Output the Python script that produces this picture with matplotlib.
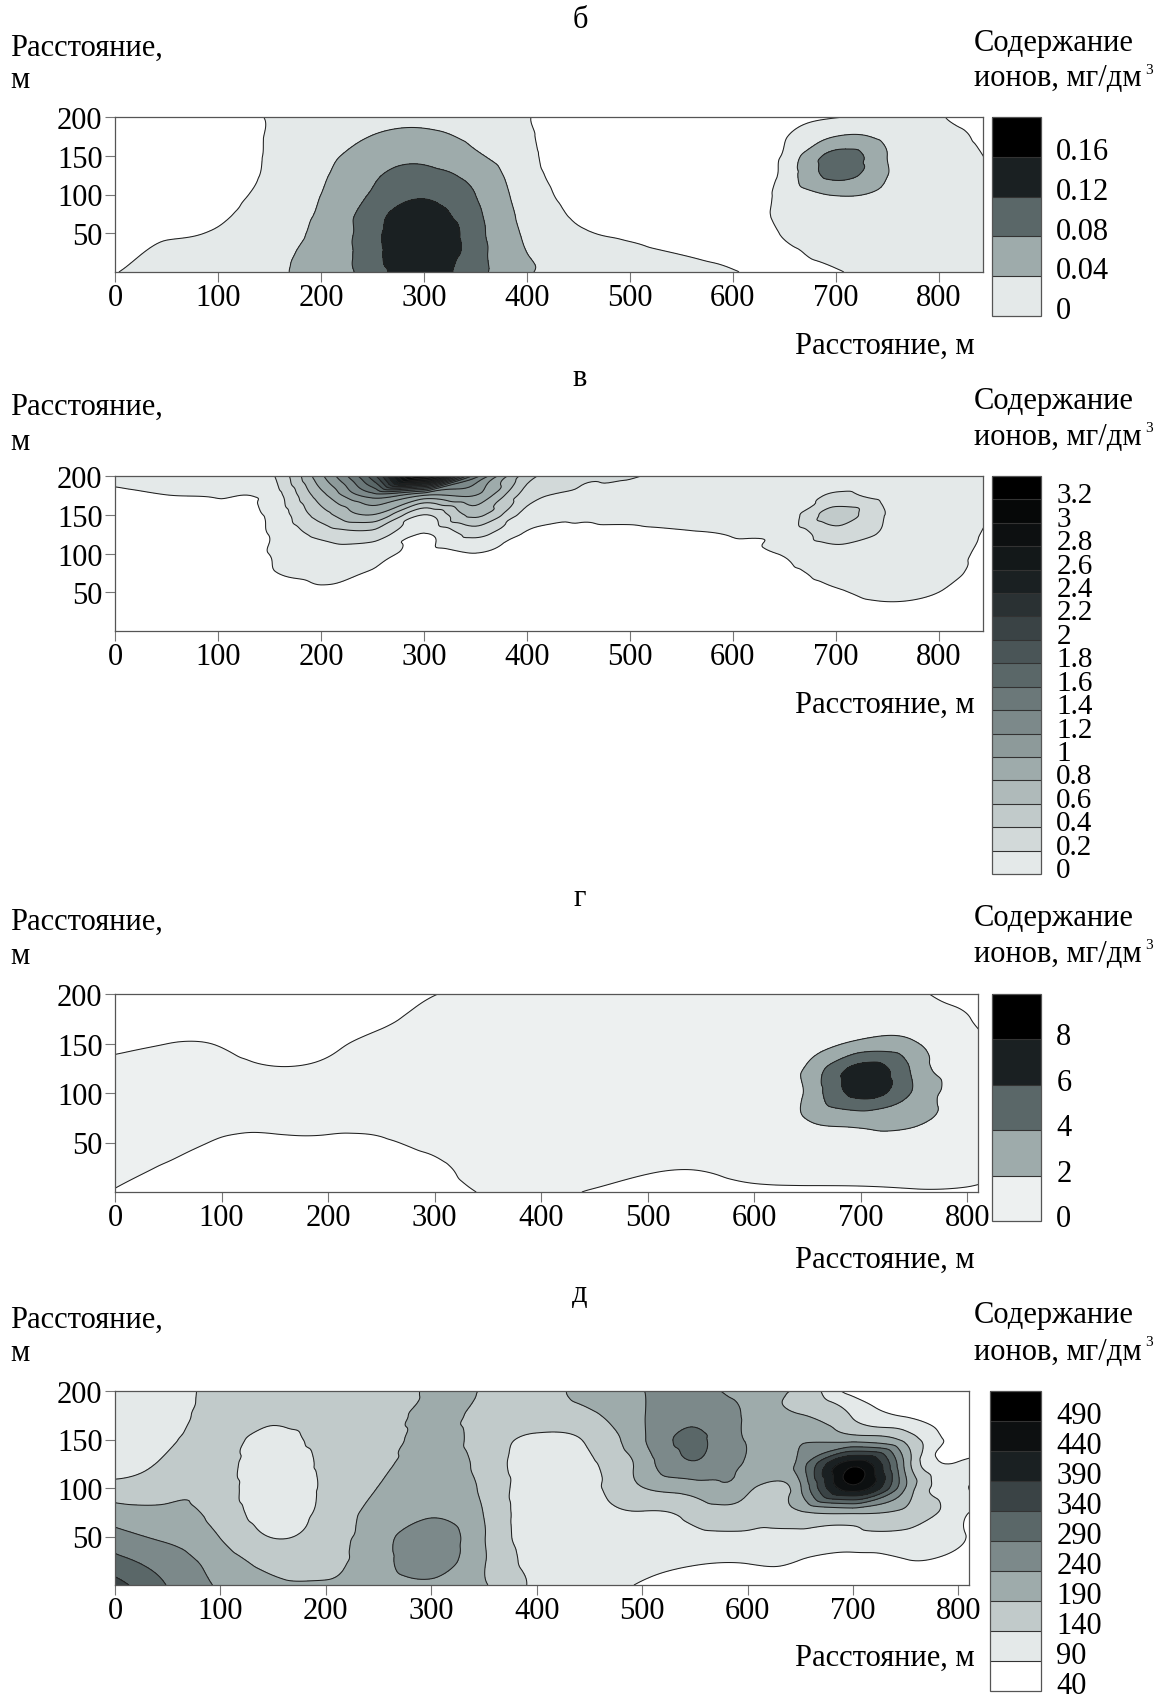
import numpy as np
import matplotlib
matplotlib.use("Agg")
import matplotlib.pyplot as plt
import matplotlib.tri as mtri
from matplotlib.colors import LinearSegmentedColormap

plt.rcParams['font.family'] = ['Liberation Serif', 'DejaVu Serif']
plt.rcParams['mathtext.fontset'] = 'custom'
plt.rcParams['mathtext.rm'] = 'Liberation Serif'
plt.rcParams['mathtext.it'] = 'Liberation Serif:italic'

# ---------------- data ----------------
x_nodes = [0, 50, 100, 150, 200, 250, 300, 350, 400, 450, 500, 550, 600, 650, 700, 750, 800, 850]
y_nodes = [200, 175, 150, 125, 100, 75, 50, 25, 0]          # rows listed top -> bottom

# panel б  (мг/дм3)
b_grid = [
    [-0.02, -0.02, -0.02, 0.003, 0.015, 0.026, 0.030, 0.020, 0.002, -0.03, -0.03, -0.03, -0.03, -0.012, -0.002, 0.012, 0.001, -0.016],
    [-0.02, -0.02, -0.02, 0.003, 0.022, 0.041, 0.048, 0.032, 0.006, -0.03, -0.03, -0.03, -0.03, -0.003, 0.040, 0.028, 0.005, -0.010],
    [-0.02, -0.02, -0.02, 0.004, 0.030, 0.058, 0.070, 0.045, 0.011, -0.03, -0.03, -0.03, -0.03, 0.006, 0.094, 0.040, 0.010, -0.004],
    [-0.02, -0.02, -0.02, 0.006, 0.035, 0.073, 0.092, 0.066, 0.016, -0.02, -0.03, -0.03, -0.02, 0.012, 0.092, 0.041, 0.014, 0.001],
    [-0.02, -0.02, -0.015, 0.012, 0.040, 0.085, 0.115, 0.080, 0.022, -0.012, -0.02, -0.02, -0.02, 0.012, 0.042, 0.034, 0.015, 0.004],
    [-0.02, -0.012, -0.006, 0.018, 0.045, 0.102, 0.135, 0.090, 0.028, -0.005, -0.012, -0.015, -0.015, 0.008, 0.028, 0.025, 0.014, 0.005],
    [-0.02, -0.003, 0.003, 0.024, 0.049, 0.106, 0.150, 0.096, 0.034, 0.004, -0.004, -0.010, -0.012, 0.002, 0.017, 0.018, 0.012, 0.006],
    [-0.015, 0.006, 0.012, 0.028, 0.054, 0.105, 0.150, 0.098, 0.040, 0.016, 0.005, -0.001, -0.006, -0.004, 0.008, 0.013, 0.010, 0.006],
    [-0.002, 0.015, 0.020, 0.030, 0.058, 0.100, 0.140, 0.095, 0.044, 0.025, 0.012, 0.006, 0.002, -0.012, -0.002, 0.008, 0.008, 0.006],
]
b_levels = [0, 0.04, 0.08, 0.12, 0.16, 0.20]
b_labels = ['0', '0.04', '0.08', '0.12', '0.16']

# panel в
v_grid = [
    [0.06, 0.10, 0.10, 0.15, 0.95, 1.90, 3.40, 1.50, 0.50, 0.24, 0.21, 0.16, 0.13, 0.12, 0.13, 0.11, 0.08, 0.04],
    [-0.04, -0.002, 0.01, 0.07, 0.72, 1.30, 1.00, 1.00, 0.30, 0.17, 0.15, 0.11, 0.09, 0.10, 0.22, 0.14, 0.08, 0.02],
    [-0.08, -0.05, -0.04, 0.03, 0.50, 0.80, 0.20, 0.65, 0.12, 0.03, 0.03, 0.04, 0.05, 0.08, 0.50, 0.19, 0.08, 0.00],
    [-0.10, -0.08, -0.08, 0.005, 0.26, 0.32, -0.01, 0.25, -0.02, -0.02, -0.02, -0.01, 0.005, 0.05, 0.30, 0.17, 0.08, -0.02],
    [-0.12, -0.10, -0.10, 0.002, 0.09, 0.07, -0.06, -0.002, -0.06, -0.05, -0.05, -0.04, -0.02, 0.01, 0.12, 0.10, 0.06, -0.04],
    [-0.14, -0.12, -0.12, -0.01, 0.02, -0.01, -0.10, -0.05, -0.08, -0.08, -0.08, -0.07, -0.06, -0.03, 0.04, 0.06, 0.04, -0.05],
    [-0.15, -0.14, -0.14, -0.05, -0.01, -0.05, -0.12, -0.08, -0.10, -0.10, -0.10, -0.09, -0.08, -0.06, -0.01, 0.02, 0.00, -0.06],
    [-0.16, -0.15, -0.15, -0.08, -0.05, -0.08, -0.14, -0.10, -0.12, -0.12, -0.12, -0.11, -0.10, -0.08, -0.04, -0.02, -0.03, -0.07],
    [-0.16, -0.16, -0.16, -0.10, -0.08, -0.10, -0.15, -0.12, -0.13, -0.13, -0.13, -0.12, -0.12, -0.10, -0.07, -0.05, -0.05, -0.08],
]
v_levels = [0, 0.2, 0.4, 0.6, 0.8, 1.0, 1.2, 1.4, 1.6, 1.8, 2.0, 2.2, 2.4, 2.6, 2.8, 3.0, 3.2, 3.4]
v_labels = ['0', '0.2', '0.4', '0.6', '0.8', '1', '1.2', '1.4', '1.6', '1.8', '2',
            '2.2', '2.4', '2.6', '2.8', '3', '3.2']

# panel г
g_grid = [
    [-0.7, -0.7, -0.7, -0.7, -0.6, -0.4, -0.05, 0.8, 0.9, 0.9, 0.9, 0.9, 0.9, 0.8, 0.7, 0.2, -0.4, -0.8],
    [-0.5, -0.4, -0.5, -0.6, -0.4, -0.2, 0.5, 0.9, 1.0, 1.0, 1.0, 1.0, 1.0, 0.9, 1.0, 0.8, 0.05, -0.9],
    [-0.2, 0.0, -0.05, -0.3, -0.15, 0.3, 0.8, 1.0, 1.0, 1.0, 1.0, 1.0, 1.0, 1.2, 2.5, 2.2, 0.4, -0.6],
    [0.3, 0.4, 0.3, 0.05, 0.2, 0.6, 0.9, 1.0, 1.0, 1.0, 1.0, 1.0, 1.1, 2.3, 6.7, 3.5, 1.0, 0.3],
    [0.6, 0.7, 0.7, 0.7, 0.7, 0.8, 0.9, 1.0, 1.0, 1.0, 1.0, 1.0, 1.1, 2.4, 6.7, 3.7, 1.0, 0.4],
    [0.7, 0.7, 0.4, 0.35, 0.35, 0.4, 0.8, 0.9, 1.0, 1.0, 1.0, 1.0, 1.0, 2.1, 3.0, 2.5, 0.9, 0.4],
    [0.6, 0.4, -0.1, -0.15, -0.15, -0.1, 0.3, 0.8, 0.9, 0.9, 0.9, 0.9, 0.9, 1.0, 1.3, 1.2, 0.7, 0.3],
    [0.3, -0.1, -0.4, -0.5, -0.5, -0.4, -0.2, 0.5, 0.7, 0.5, 0.2, 0.1, 0.4, 0.5, 0.6, 0.6, 0.5, -0.1],
    [-0.05, -0.4, -0.5, -0.6, -0.6, -0.5, -0.4, 0.1, 0.3, -0.1, -0.4, -0.4, -0.2, -0.2, -0.2, -0.1, -0.15, -0.4],
]
g_levels = [0, 2, 4, 6, 8, 10]
g_labels = ['0', '2', '4', '6', '8']

# panel д
d_grid = [
    [120, 130, 150, 158, 170, 168, 200, 184, 175, 200, 238, 255, 215, 180, 65, 50, 50, 45],
    [115, 125, 155, 150, 165, 168, 205, 170, 165, 182, 236, 275, 232, 192, 135, 85, 60, 50],
    [110, 130, 158, 125, 158, 172, 205, 168, 130, 148, 232, 300, 236, 235, 220, 175, 75, 60],
    [115, 152, 162, 112, 152, 180, 210, 172, 115, 133, 210, 285, 232, 260, 470, 225, 95, 70],
    [158, 172, 165, 110, 150, 191, 215, 180, 110, 125, 188, 215, 205, 235, 470, 238, 100, 80],
    [210, 200, 170, 120, 155, 205, 232, 188, 110, 120, 138, 160, 170, 185, 200, 180, 105, 75],
    [258, 230, 188, 138, 165, 218, 265, 193, 115, 115, 120, 125, 130, 125, 125, 125, 95, 65],
    [305, 265, 215, 175, 180, 220, 262, 194, 122, 110, 105, 95, 93, 89, 70, 88, 75, 55],
    [360, 288, 232, 195, 193, 215, 232, 195, 130, 100, 88, 75, 78, 75, 50, 55, 55, 45],
]
d_levels = [40, 90, 140, 190, 240, 290, 340, 390, 440, 490, 540]
d_labels = ['40', '90', '140', '190', '240', '290', '340', '390', '440', '490']

x_ticks = [0, 100, 200, 300, 400, 500, 600, 700, 800]
y_ticks = [50, 100, 150, 200]

# ---------------- drawing ----------------
W, H = 1156, 1699
fig = plt.figure(figsize=(W / 100, H / 100), dpi=100)
FS = 22

def rect(l, t, r, b):
    return [l / W, 1 - b / H, (r - l) / W, (b - t) / H]

cmap = LinearSegmentedColormap.from_list(
    'gb', ['#e4e9e9', '#9eabab', '#5b6869', '#1a2022', '#000000'])

def band_colors(n, first=None, white_first=False):
    if white_first:
        cols = ['#ffffff'] + [cmap(i / (n - 2)) for i in range(n - 1)]
    else:
        cols = [cmap(i / (n - 1)) for i in range(n)]
    if first is not None:
        cols[0] = first
    return cols

xs = np.array(x_nodes, float)
ys = np.array(y_nodes[::-1], float)
X, Y = np.meshgrid(xs, ys)
nx, ny = len(xs), len(ys)
tris = []
for j in range(ny - 1):
    for i in range(nx - 1):
        a = j * nx + i
        tris.append([a, a + 1, a + nx + 1])
        tris.append([a, a + nx + 1, a + nx])
tri = mtri.Triangulation(X.ravel(), Y.ravel(), np.array(tris))
refiner = mtri.UniformTriRefiner(tri)


def panel(ax_box, cax_box, grid, levels, colors, xmax, labels, offset,
          low_clip=False, kind='min_E', cb_fs=FS):
    ax = fig.add_axes(rect(*ax_box))
    Z = np.array(grid, float)[::-1].ravel()
    interp = mtri.CubicTriInterpolator(tri, Z, kind=kind)
    tri_r, z_r = refiner.refine_field(Z, triinterpolator=interp, subdiv=4)
    span = levels[-1] - levels[0]
    z_r = np.minimum(z_r, levels[-1] - 1e-4 * span)
    if low_clip:
        z_r = np.maximum(z_r, levels[0] + 1e-4 * span)
    cs = ax.tricontourf(tri_r, z_r, levels=levels, colors=colors)
    ax.tricontour(tri_r, z_r, levels=levels[:-1], colors='#202020', linewidths=0.75)
    ax.set_xlim(0, xmax)
    ax.set_ylim(0, 200)
    ax.set_xticks(x_ticks)
    ax.set_yticks(y_ticks)
    ax.tick_params(direction='out', length=7, width=0.8, color='#777777',
                   labelsize=FS, pad=1)
    ax.tick_params(axis='y', pad=2)
    for s in ax.spines.values():
        s.set_color('#555555')
        s.set_linewidth(0.9)
    cax = fig.add_axes(rect(*cax_box))
    cb = fig.colorbar(cs, cax=cax, drawedges=True)
    cb.outline.set_edgecolor('#555555')
    cb.outline.set_linewidth(0.9)
    cb.dividers.set_color('#333333')
    cb.dividers.set_linewidth(0.8)
    step = levels[1] - levels[0]
    cb.set_ticks([lv + offset * step for lv in levels[:-1]], labels=labels)
    cax.tick_params(length=0, pad=11, labelsize=cb_fs)
    return ax


TITLES = ['б', 'в', 'г', 'д']

def texts(title_y, left_y1, left_y2, right_y1, right_y2, bottom_y):
    fig.text(580 / W, 1 - title_y / H, TITLES.pop(0), ha='center', va='center', fontsize=FS)
    fig.text(10 / W, 1 - left_y1 / H, 'Расстояние,', ha='left', va='center', fontsize=FS)
    fig.text(10 / W, 1 - left_y2 / H, 'м', ha='left', va='center', fontsize=FS)
    fig.text(974 / W, 1 - right_y1 / H, 'Содержание', ha='left', va='center', fontsize=FS)
    fig.text(974 / W, 1 - right_y2 / H, 'ионов, мг/дм', ha='left', va='center', fontsize=FS)
    fig.text(1145 / W, 1 - (right_y2 - 9) / H, '3', ha='left', va='center', fontsize=11)
    fig.text(975 / W, 1 - bottom_y / H, 'Расстояние, м', ha='right', va='center', fontsize=FS)


panel((115, 118, 983, 273), (992, 118, 1041, 317), b_grid, b_levels,
      band_colors(5), 843, b_labels, 0.22)
texts(20, 48, 81, 44, 79, 346)

panel((115, 477, 983, 632), (992, 477, 1041, 875), v_grid, v_levels,
      band_colors(17), 843, v_labels, 0.3, kind='geom', cb_fs=21)
texts(378, 407, 442, 402, 438, 705)

panel((115, 995, 978, 1193), (992, 995, 1041, 1222), g_grid, g_levels,
      band_colors(5, first='#edf0f0'), 810, g_labels, 0.13)
texts(899, 922, 957, 919, 955, 1260)

panel((115, 1392, 969, 1586), (990, 1392, 1041, 1692), d_grid, d_levels,
      band_colors(10, white_first=True), 810, d_labels, 0.3, low_clip=True)
texts(1294, 1320, 1354, 1316, 1352, 1658)

fig.savefig('out.png', dpi=100)
